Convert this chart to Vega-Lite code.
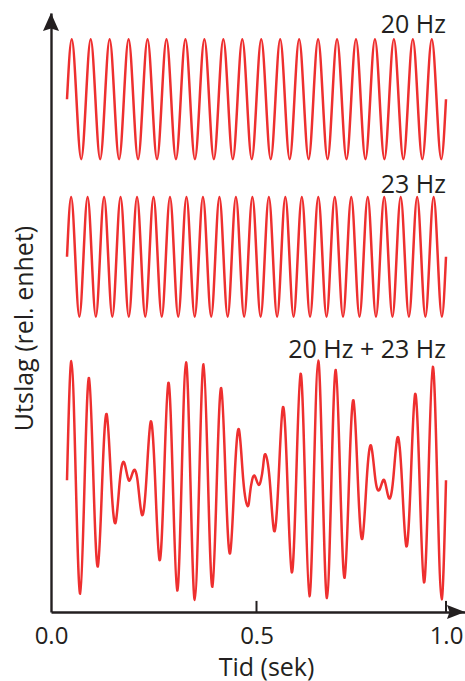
{
  "$schema": "https://vega.github.io/schema/vega-lite/v6.json",
  "width": 414,
  "height": 599,
  "autosize": "none",
  "padding": {"left": 51, "top": 13, "right": 0, "bottom": 69},
  "background": "white",
  "datasets": {
    "bolger": [
      {"serie": "20 Hz", "tid": 0, "utslag": 8.56},
      {"serie": "20 Hz", "tid": 0.0125, "utslag": 9.56},
      {"serie": "20 Hz", "tid": 0.025, "utslag": 8.56},
      {"serie": "20 Hz", "tid": 0.0375, "utslag": 7.56},
      {"serie": "20 Hz", "tid": 0.05, "utslag": 8.56},
      {"serie": "20 Hz", "tid": 0.0625, "utslag": 9.56},
      {"serie": "20 Hz", "tid": 0.075, "utslag": 8.56},
      {"serie": "20 Hz", "tid": 0.0875, "utslag": 7.56},
      {"serie": "20 Hz", "tid": 0.1, "utslag": 8.56},
      {"serie": "20 Hz", "tid": 0.1125, "utslag": 9.56},
      {"serie": "20 Hz", "tid": 0.125, "utslag": 8.56},
      {"serie": "20 Hz", "tid": 0.1375, "utslag": 7.56},
      {"serie": "20 Hz", "tid": 0.15, "utslag": 8.56},
      {"serie": "20 Hz", "tid": 0.1625, "utslag": 9.56},
      {"serie": "20 Hz", "tid": 0.175, "utslag": 8.56},
      {"serie": "20 Hz", "tid": 0.1875, "utslag": 7.56},
      {"serie": "20 Hz", "tid": 0.2, "utslag": 8.56},
      {"serie": "20 Hz", "tid": 0.2125, "utslag": 9.56},
      {"serie": "20 Hz", "tid": 0.225, "utslag": 8.56},
      {"serie": "20 Hz", "tid": 0.2375, "utslag": 7.56},
      {"serie": "20 Hz", "tid": 0.25, "utslag": 8.56},
      {"serie": "20 Hz", "tid": 0.2625, "utslag": 9.56},
      {"serie": "20 Hz", "tid": 0.275, "utslag": 8.56},
      {"serie": "20 Hz", "tid": 0.2875, "utslag": 7.56},
      {"serie": "20 Hz", "tid": 0.3, "utslag": 8.56},
      {"serie": "20 Hz", "tid": 0.3125, "utslag": 9.56},
      {"serie": "20 Hz", "tid": 0.325, "utslag": 8.56},
      {"serie": "20 Hz", "tid": 0.3375, "utslag": 7.56},
      {"serie": "20 Hz", "tid": 0.35, "utslag": 8.56},
      {"serie": "20 Hz", "tid": 0.3625, "utslag": 9.56},
      {"serie": "20 Hz", "tid": 0.375, "utslag": 8.56},
      {"serie": "20 Hz", "tid": 0.3875, "utslag": 7.56},
      {"serie": "20 Hz", "tid": 0.4, "utslag": 8.56},
      {"serie": "20 Hz", "tid": 0.4125, "utslag": 9.56},
      {"serie": "20 Hz", "tid": 0.425, "utslag": 8.56},
      {"serie": "20 Hz", "tid": 0.4375, "utslag": 7.56},
      {"serie": "20 Hz", "tid": 0.45, "utslag": 8.56},
      {"serie": "20 Hz", "tid": 0.4625, "utslag": 9.56},
      {"serie": "20 Hz", "tid": 0.475, "utslag": 8.56},
      {"serie": "20 Hz", "tid": 0.4875, "utslag": 7.56},
      {"serie": "20 Hz", "tid": 0.5, "utslag": 8.56},
      {"serie": "20 Hz", "tid": 0.5125, "utslag": 9.56},
      {"serie": "20 Hz", "tid": 0.525, "utslag": 8.56},
      {"serie": "20 Hz", "tid": 0.5375, "utslag": 7.56},
      {"serie": "20 Hz", "tid": 0.55, "utslag": 8.56},
      {"serie": "20 Hz", "tid": 0.5625, "utslag": 9.56},
      {"serie": "20 Hz", "tid": 0.575, "utslag": 8.56},
      {"serie": "20 Hz", "tid": 0.5875, "utslag": 7.56},
      {"serie": "20 Hz", "tid": 0.6, "utslag": 8.56},
      {"serie": "20 Hz", "tid": 0.6125, "utslag": 9.56},
      {"serie": "20 Hz", "tid": 0.625, "utslag": 8.56},
      {"serie": "20 Hz", "tid": 0.6375, "utslag": 7.56},
      {"serie": "20 Hz", "tid": 0.65, "utslag": 8.56},
      {"serie": "20 Hz", "tid": 0.6625, "utslag": 9.56},
      {"serie": "20 Hz", "tid": 0.675, "utslag": 8.56},
      {"serie": "20 Hz", "tid": 0.6875, "utslag": 7.56},
      {"serie": "20 Hz", "tid": 0.7, "utslag": 8.56},
      {"serie": "20 Hz", "tid": 0.7125, "utslag": 9.56},
      {"serie": "20 Hz", "tid": 0.725, "utslag": 8.56},
      {"serie": "20 Hz", "tid": 0.7375, "utslag": 7.56},
      {"serie": "20 Hz", "tid": 0.75, "utslag": 8.56},
      {"serie": "20 Hz", "tid": 0.7625, "utslag": 9.56},
      {"serie": "20 Hz", "tid": 0.775, "utslag": 8.56},
      {"serie": "20 Hz", "tid": 0.7875, "utslag": 7.56},
      {"serie": "20 Hz", "tid": 0.8, "utslag": 8.56},
      {"serie": "20 Hz", "tid": 0.8125, "utslag": 9.56},
      {"serie": "20 Hz", "tid": 0.825, "utslag": 8.56},
      {"serie": "20 Hz", "tid": 0.8375, "utslag": 7.56},
      {"serie": "20 Hz", "tid": 0.85, "utslag": 8.56},
      {"serie": "20 Hz", "tid": 0.8625, "utslag": 9.56},
      {"serie": "20 Hz", "tid": 0.875, "utslag": 8.56},
      {"serie": "20 Hz", "tid": 0.8875, "utslag": 7.56},
      {"serie": "20 Hz", "tid": 0.9, "utslag": 8.56},
      {"serie": "20 Hz", "tid": 0.9125, "utslag": 9.56},
      {"serie": "20 Hz", "tid": 0.925, "utslag": 8.56},
      {"serie": "20 Hz", "tid": 0.9375, "utslag": 7.56},
      {"serie": "20 Hz", "tid": 0.95, "utslag": 8.56},
      {"serie": "20 Hz", "tid": 0.9625, "utslag": 9.56},
      {"serie": "20 Hz", "tid": 0.975, "utslag": 8.56},
      {"serie": "20 Hz", "tid": 0.9875, "utslag": 7.56},
      {"serie": "20 Hz", "tid": 1, "utslag": 8.56},

      {"serie": "23 Hz", "tid": 0, "utslag": 5.93},
      {"serie": "23 Hz", "tid": 0.01087, "utslag": 6.93},
      {"serie": "23 Hz", "tid": 0.02174, "utslag": 5.93},
      {"serie": "23 Hz", "tid": 0.03261, "utslag": 4.93},
      {"serie": "23 Hz", "tid": 0.04348, "utslag": 5.93},
      {"serie": "23 Hz", "tid": 0.05435, "utslag": 6.93},
      {"serie": "23 Hz", "tid": 0.06522, "utslag": 5.93},
      {"serie": "23 Hz", "tid": 0.07609, "utslag": 4.93},
      {"serie": "23 Hz", "tid": 0.08696, "utslag": 5.93},
      {"serie": "23 Hz", "tid": 0.09783, "utslag": 6.93},
      {"serie": "23 Hz", "tid": 0.1087, "utslag": 5.93},
      {"serie": "23 Hz", "tid": 0.11957, "utslag": 4.93},
      {"serie": "23 Hz", "tid": 0.13043, "utslag": 5.93},
      {"serie": "23 Hz", "tid": 0.1413, "utslag": 6.93},
      {"serie": "23 Hz", "tid": 0.15217, "utslag": 5.93},
      {"serie": "23 Hz", "tid": 0.16304, "utslag": 4.93},
      {"serie": "23 Hz", "tid": 0.17391, "utslag": 5.93},
      {"serie": "23 Hz", "tid": 0.18478, "utslag": 6.93},
      {"serie": "23 Hz", "tid": 0.19565, "utslag": 5.93},
      {"serie": "23 Hz", "tid": 0.20652, "utslag": 4.93},
      {"serie": "23 Hz", "tid": 0.21739, "utslag": 5.93},
      {"serie": "23 Hz", "tid": 0.22826, "utslag": 6.93},
      {"serie": "23 Hz", "tid": 0.23913, "utslag": 5.93},
      {"serie": "23 Hz", "tid": 0.25, "utslag": 4.93},
      {"serie": "23 Hz", "tid": 0.26087, "utslag": 5.93},
      {"serie": "23 Hz", "tid": 0.27174, "utslag": 6.93},
      {"serie": "23 Hz", "tid": 0.28261, "utslag": 5.93},
      {"serie": "23 Hz", "tid": 0.29348, "utslag": 4.93},
      {"serie": "23 Hz", "tid": 0.30435, "utslag": 5.93},
      {"serie": "23 Hz", "tid": 0.31522, "utslag": 6.93},
      {"serie": "23 Hz", "tid": 0.32609, "utslag": 5.93},
      {"serie": "23 Hz", "tid": 0.33696, "utslag": 4.93},
      {"serie": "23 Hz", "tid": 0.34783, "utslag": 5.93},
      {"serie": "23 Hz", "tid": 0.3587, "utslag": 6.93},
      {"serie": "23 Hz", "tid": 0.36957, "utslag": 5.93},
      {"serie": "23 Hz", "tid": 0.38043, "utslag": 4.93},
      {"serie": "23 Hz", "tid": 0.3913, "utslag": 5.93},
      {"serie": "23 Hz", "tid": 0.40217, "utslag": 6.93},
      {"serie": "23 Hz", "tid": 0.41304, "utslag": 5.93},
      {"serie": "23 Hz", "tid": 0.42391, "utslag": 4.93},
      {"serie": "23 Hz", "tid": 0.43478, "utslag": 5.93},
      {"serie": "23 Hz", "tid": 0.44565, "utslag": 6.93},
      {"serie": "23 Hz", "tid": 0.45652, "utslag": 5.93},
      {"serie": "23 Hz", "tid": 0.46739, "utslag": 4.93},
      {"serie": "23 Hz", "tid": 0.47826, "utslag": 5.93},
      {"serie": "23 Hz", "tid": 0.48913, "utslag": 6.93},
      {"serie": "23 Hz", "tid": 0.5, "utslag": 5.93},
      {"serie": "23 Hz", "tid": 0.51087, "utslag": 4.93},
      {"serie": "23 Hz", "tid": 0.52174, "utslag": 5.93},
      {"serie": "23 Hz", "tid": 0.53261, "utslag": 6.93},
      {"serie": "23 Hz", "tid": 0.54348, "utslag": 5.93},
      {"serie": "23 Hz", "tid": 0.55435, "utslag": 4.93},
      {"serie": "23 Hz", "tid": 0.56522, "utslag": 5.93},
      {"serie": "23 Hz", "tid": 0.57609, "utslag": 6.93},
      {"serie": "23 Hz", "tid": 0.58696, "utslag": 5.93},
      {"serie": "23 Hz", "tid": 0.59783, "utslag": 4.93},
      {"serie": "23 Hz", "tid": 0.6087, "utslag": 5.93},
      {"serie": "23 Hz", "tid": 0.61957, "utslag": 6.93},
      {"serie": "23 Hz", "tid": 0.63043, "utslag": 5.93},
      {"serie": "23 Hz", "tid": 0.6413, "utslag": 4.93},
      {"serie": "23 Hz", "tid": 0.65217, "utslag": 5.93},
      {"serie": "23 Hz", "tid": 0.66304, "utslag": 6.93},
      {"serie": "23 Hz", "tid": 0.67391, "utslag": 5.93},
      {"serie": "23 Hz", "tid": 0.68478, "utslag": 4.93},
      {"serie": "23 Hz", "tid": 0.69565, "utslag": 5.93},
      {"serie": "23 Hz", "tid": 0.70652, "utslag": 6.93},
      {"serie": "23 Hz", "tid": 0.71739, "utslag": 5.93},
      {"serie": "23 Hz", "tid": 0.72826, "utslag": 4.93},
      {"serie": "23 Hz", "tid": 0.73913, "utslag": 5.93},
      {"serie": "23 Hz", "tid": 0.75, "utslag": 6.93},
      {"serie": "23 Hz", "tid": 0.76087, "utslag": 5.93},
      {"serie": "23 Hz", "tid": 0.77174, "utslag": 4.93},
      {"serie": "23 Hz", "tid": 0.78261, "utslag": 5.93},
      {"serie": "23 Hz", "tid": 0.79348, "utslag": 6.93},
      {"serie": "23 Hz", "tid": 0.80435, "utslag": 5.93},
      {"serie": "23 Hz", "tid": 0.81522, "utslag": 4.93},
      {"serie": "23 Hz", "tid": 0.82609, "utslag": 5.93},
      {"serie": "23 Hz", "tid": 0.83696, "utslag": 6.93},
      {"serie": "23 Hz", "tid": 0.84783, "utslag": 5.93},
      {"serie": "23 Hz", "tid": 0.8587, "utslag": 4.93},
      {"serie": "23 Hz", "tid": 0.86957, "utslag": 5.93},
      {"serie": "23 Hz", "tid": 0.88043, "utslag": 6.93},
      {"serie": "23 Hz", "tid": 0.8913, "utslag": 5.93},
      {"serie": "23 Hz", "tid": 0.90217, "utslag": 4.93},
      {"serie": "23 Hz", "tid": 0.91304, "utslag": 5.93},
      {"serie": "23 Hz", "tid": 0.92391, "utslag": 6.93},
      {"serie": "23 Hz", "tid": 0.93478, "utslag": 5.93},
      {"serie": "23 Hz", "tid": 0.94565, "utslag": 4.93},
      {"serie": "23 Hz", "tid": 0.95652, "utslag": 5.93},
      {"serie": "23 Hz", "tid": 0.96739, "utslag": 6.93},
      {"serie": "23 Hz", "tid": 0.97826, "utslag": 5.93},
      {"serie": "23 Hz", "tid": 0.98913, "utslag": 4.93},
      {"serie": "23 Hz", "tid": 1, "utslag": 5.93},

      {"serie": "20 Hz + 23 Hz", "tid": 0, "utslag": 2.2},
      {"serie": "20 Hz + 23 Hz", "tid": 0.011628, "utslag": 4.188},
      {"serie": "20 Hz + 23 Hz", "tid": 0.023256, "utslag": 2.2},
      {"serie": "20 Hz + 23 Hz", "tid": 0.034884, "utslag": 0.307},
      {"serie": "20 Hz + 23 Hz", "tid": 0.046512, "utslag": 2.2},
      {"serie": "20 Hz + 23 Hz", "tid": 0.05814, "utslag": 3.907},
      {"serie": "20 Hz + 23 Hz", "tid": 0.069767, "utslag": 2.2},
      {"serie": "20 Hz + 23 Hz", "tid": 0.081395, "utslag": 0.76},
      {"serie": "20 Hz + 23 Hz", "tid": 0.093023, "utslag": 2.2},
      {"serie": "20 Hz + 23 Hz", "tid": 0.104651, "utslag": 3.303},
      {"serie": "20 Hz + 23 Hz", "tid": 0.116279, "utslag": 2.2},
      {"serie": "20 Hz + 23 Hz", "tid": 0.127907, "utslag": 1.486},
      {"serie": "20 Hz + 23 Hz", "tid": 0.139535, "utslag": 2.2},
      {"serie": "20 Hz + 23 Hz", "tid": 0.151163, "utslag": 2.491},
      {"serie": "20 Hz + 23 Hz", "tid": 0.162791, "utslag": 2.2},
      {"serie": "20 Hz + 23 Hz", "tid": 0.174419, "utslag": 2.346},
      {"serie": "20 Hz + 23 Hz", "tid": 0.186047, "utslag": 2.2},
      {"serie": "20 Hz + 23 Hz", "tid": 0.197674, "utslag": 1.624},
      {"serie": "20 Hz + 23 Hz", "tid": 0.209302, "utslag": 2.2},
      {"serie": "20 Hz + 23 Hz", "tid": 0.22093, "utslag": 3.179},
      {"serie": "20 Hz + 23 Hz", "tid": 0.232558, "utslag": 2.2},
      {"serie": "20 Hz + 23 Hz", "tid": 0.244186, "utslag": 0.865},
      {"serie": "20 Hz + 23 Hz", "tid": 0.255814, "utslag": 2.2},
      {"serie": "20 Hz + 23 Hz", "tid": 0.267442, "utslag": 3.827},
      {"serie": "20 Hz + 23 Hz", "tid": 0.27907, "utslag": 2.2},
      {"serie": "20 Hz + 23 Hz", "tid": 0.290698, "utslag": 0.359},
      {"serie": "20 Hz + 23 Hz", "tid": 0.302326, "utslag": 2.2},
      {"serie": "20 Hz + 23 Hz", "tid": 0.313953, "utslag": 4.167},
      {"serie": "20 Hz + 23 Hz", "tid": 0.325581, "utslag": 2.2},
      {"serie": "20 Hz + 23 Hz", "tid": 0.337209, "utslag": 0.201},
      {"serie": "20 Hz + 23 Hz", "tid": 0.348837, "utslag": 2.2},
      {"serie": "20 Hz + 23 Hz", "tid": 0.360465, "utslag": 4.135},
      {"serie": "20 Hz + 23 Hz", "tid": 0.372093, "utslag": 2.2},
      {"serie": "20 Hz + 23 Hz", "tid": 0.383721, "utslag": 0.421},
      {"serie": "20 Hz + 23 Hz", "tid": 0.395349, "utslag": 2.2},
      {"serie": "20 Hz + 23 Hz", "tid": 0.406977, "utslag": 3.737},
      {"serie": "20 Hz + 23 Hz", "tid": 0.418605, "utslag": 2.2},
      {"serie": "20 Hz + 23 Hz", "tid": 0.430233, "utslag": 0.978},
      {"serie": "20 Hz + 23 Hz", "tid": 0.44186, "utslag": 2.2},
      {"serie": "20 Hz + 23 Hz", "tid": 0.453488, "utslag": 3.049},
      {"serie": "20 Hz + 23 Hz", "tid": 0.465116, "utslag": 2.2},
      {"serie": "20 Hz + 23 Hz", "tid": 0.476744, "utslag": 1.765},
      {"serie": "20 Hz + 23 Hz", "tid": 0.482558, "utslag": 1.969},
      {"serie": "20 Hz + 23 Hz", "tid": 0.488372, "utslag": 2.2},
      {"serie": "20 Hz + 23 Hz", "tid": 0.494186, "utslag": 2.278},
      {"serie": "20 Hz + 23 Hz", "tid": 0.5, "utslag": 2.2},
      {"serie": "20 Hz + 23 Hz", "tid": 0.505814, "utslag": 2.122},
      {"serie": "20 Hz + 23 Hz", "tid": 0.511628, "utslag": 2.2},
      {"serie": "20 Hz + 23 Hz", "tid": 0.517442, "utslag": 2.431},
      {"serie": "20 Hz + 23 Hz", "tid": 0.523256, "utslag": 2.635},
      {"serie": "20 Hz + 23 Hz", "tid": 0.534884, "utslag": 2.2},
      {"serie": "20 Hz + 23 Hz", "tid": 0.546512, "utslag": 1.351},
      {"serie": "20 Hz + 23 Hz", "tid": 0.55814, "utslag": 2.2},
      {"serie": "20 Hz + 23 Hz", "tid": 0.569767, "utslag": 3.422},
      {"serie": "20 Hz + 23 Hz", "tid": 0.581395, "utslag": 2.2},
      {"serie": "20 Hz + 23 Hz", "tid": 0.593023, "utslag": 0.663},
      {"serie": "20 Hz + 23 Hz", "tid": 0.604651, "utslag": 2.2},
      {"serie": "20 Hz + 23 Hz", "tid": 0.616279, "utslag": 3.979},
      {"serie": "20 Hz + 23 Hz", "tid": 0.627907, "utslag": 2.2},
      {"serie": "20 Hz + 23 Hz", "tid": 0.639535, "utslag": 0.265},
      {"serie": "20 Hz + 23 Hz", "tid": 0.651163, "utslag": 2.2},
      {"serie": "20 Hz + 23 Hz", "tid": 0.662791, "utslag": 4.199},
      {"serie": "20 Hz + 23 Hz", "tid": 0.674419, "utslag": 2.2},
      {"serie": "20 Hz + 23 Hz", "tid": 0.686047, "utslag": 0.233},
      {"serie": "20 Hz + 23 Hz", "tid": 0.697674, "utslag": 2.2},
      {"serie": "20 Hz + 23 Hz", "tid": 0.709302, "utslag": 4.041},
      {"serie": "20 Hz + 23 Hz", "tid": 0.72093, "utslag": 2.2},
      {"serie": "20 Hz + 23 Hz", "tid": 0.732558, "utslag": 0.573},
      {"serie": "20 Hz + 23 Hz", "tid": 0.744186, "utslag": 2.2},
      {"serie": "20 Hz + 23 Hz", "tid": 0.755814, "utslag": 3.535},
      {"serie": "20 Hz + 23 Hz", "tid": 0.767442, "utslag": 2.2},
      {"serie": "20 Hz + 23 Hz", "tid": 0.77907, "utslag": 1.221},
      {"serie": "20 Hz + 23 Hz", "tid": 0.790698, "utslag": 2.2},
      {"serie": "20 Hz + 23 Hz", "tid": 0.802326, "utslag": 2.776},
      {"serie": "20 Hz + 23 Hz", "tid": 0.813953, "utslag": 2.2},
      {"serie": "20 Hz + 23 Hz", "tid": 0.825581, "utslag": 2.054},
      {"serie": "20 Hz + 23 Hz", "tid": 0.837209, "utslag": 2.2},
      {"serie": "20 Hz + 23 Hz", "tid": 0.848837, "utslag": 1.909},
      {"serie": "20 Hz + 23 Hz", "tid": 0.860465, "utslag": 2.2},
      {"serie": "20 Hz + 23 Hz", "tid": 0.872093, "utslag": 2.914},
      {"serie": "20 Hz + 23 Hz", "tid": 0.883721, "utslag": 2.2},
      {"serie": "20 Hz + 23 Hz", "tid": 0.895349, "utslag": 1.097},
      {"serie": "20 Hz + 23 Hz", "tid": 0.906977, "utslag": 2.2},
      {"serie": "20 Hz + 23 Hz", "tid": 0.918605, "utslag": 3.64},
      {"serie": "20 Hz + 23 Hz", "tid": 0.930233, "utslag": 2.2},
      {"serie": "20 Hz + 23 Hz", "tid": 0.94186, "utslag": 0.493},
      {"serie": "20 Hz + 23 Hz", "tid": 0.953488, "utslag": 2.2},
      {"serie": "20 Hz + 23 Hz", "tid": 0.965116, "utslag": 4.093},
      {"serie": "20 Hz + 23 Hz", "tid": 0.976744, "utslag": 2.2},
      {"serie": "20 Hz + 23 Hz", "tid": 0.988372, "utslag": 0.212},
      {"serie": "20 Hz + 23 Hz", "tid": 1, "utslag": 2.2}
    ],
    "etiketter": [
      {"tekst": "20 Hz", "tid": 1, "utslag": 9.666},
      {"tekst": "23 Hz", "tid": 1, "utslag": 6.995},
      {"tekst": "20 Hz + 23 Hz", "tid": 1, "utslag": 4.24}
    ],
    "merker": [
      {"tid": 0.5, "fra": 0, "til": 0.185},
      {"tid": 1, "fra": 0, "til": 0.185}
    ],
    "piler": [
      {"retning": "opp", "tid": -0.04222, "utslag": 9.85},
      {"retning": "hoyre", "tid": 1.0264, "utslag": 0}
    ]
  },
  "encoding": {
    "x": {
      "field": "tid",
      "type": "quantitative",
      "title": "Tid (sek)",
      "scale": {"domain": [-0.04222, 1.05013], "nice": false, "zero": false},
      "axis": {
        "values": [-0.04222, 0.5, 1],
        "labelExpr": "datum.value < 0 ? '0.0' : format(datum.value, '.1f')",
        "labelFlush": false,
        "grid": false,
        "ticks": false,
        "labelBaseline": "top",
        "labelPadding": 12,
        "titleX": 215,
        "titleY": 63,
        "titleBaseline": "alphabetic"
      }
    },
    "y": {
      "field": "utslag",
      "type": "quantitative",
      "title": "Utslag (rel. enhet)",
      "scale": {"domain": [0, 10], "nice": false, "zero": false},
      "axis": {
        "labels": false,
        "ticks": false,
        "grid": false,
        "titleX": -19,
        "titleY": 315,
        "titleBaseline": "alphabetic"
      }
    }
  },
  "layer": [
    {
      "data": {"name": "bolger"},
      "mark": {"type": "line", "interpolate": "natural", "color": "#ee2f2f", "strokeWidth": 2.5, "clip": false},
      "encoding": {"detail": {"field": "serie", "type": "nominal"}}
    },
    {
      "data": {"name": "merker"},
      "mark": {"type": "rule", "color": "#231f20", "strokeWidth": 2},
      "encoding": {
        "y": {"field": "fra", "type": "quantitative"},
        "y2": {"field": "til"}
      }
    },
    {
      "data": {"name": "etiketter"},
      "mark": {"type": "text", "align": "right", "baseline": "alphabetic", "font": "Open Sans", "fontSize": 25, "color": "#231f20"},
      "encoding": {"text": {"field": "tekst", "type": "nominal"}}
    },
    {
      "data": {"name": "piler"},
      "mark": {"type": "point", "filled": true, "opacity": 1, "size": 324, "color": "#231f20", "strokeWidth": 0},
      "encoding": {
        "shape": {
          "field": "retning",
          "type": "nominal",
          "legend": null,
          "scale": {
            "domain": ["opp", "hoyre"],
            "range": ["M0,-1L0.89,1L0,0.72L-0.89,1Z", "M1,0L-1,-0.78L-0.72,0L-1,0.78Z"]
          }
        }
      }
    }
  ],
  "config": {
    "view": {"stroke": null},
    "axis": {
      "domainColor": "#231f20",
      "domainWidth": 2.4,
      "labelFont": "Open Sans",
      "labelFontSize": 24,
      "labelColor": "#231f20",
      "titleFont": "Open Sans",
      "titleFontSize": 25,
      "titleFontWeight": "normal",
      "titleColor": "#231f20"
    }
  }
}
